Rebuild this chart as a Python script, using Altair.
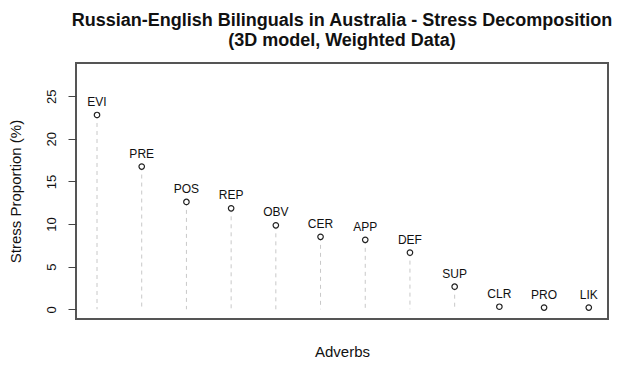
import altair as alt
import pandas as pd

adverbs = ["EVI", "PRE", "POS", "REP", "OBV", "CER", "APP", "DEF", "SUP", "CLR", "PRO", "LIK"]
stress = [22.8, 16.75, 12.6, 11.85, 9.85, 8.5, 8.15, 6.65, 2.65, 0.3, 0.2, 0.2]
positions = list(range(1, len(adverbs) + 1))
y_ticks = [0, 5, 10, 15, 20, 25]

df = pd.DataFrame({"pos": positions, "adverb": adverbs, "stress": stress, "zero": [0] * len(adverbs)})

FONT = "Liberation Sans"

x_enc = alt.X(
    "pos:Q",
    scale=alt.Scale(domain=[0.53, 12.43], nice=False, zero=False),
    axis=alt.Axis(labels=False, ticks=False, domain=False, grid=False,
                  title="Adverbs", titleFontSize=15, titleFontWeight="normal",
                  titleFont=FONT, titleColor="#111", titlePadding=25),
)
y_scale = alt.Scale(domain=[-1.14, 28.9], nice=False, zero=False)
y_enc = alt.Y(
    "stress:Q",
    scale=y_scale,
    axis=alt.Axis(values=y_ticks, grid=False, domain=False, tickSize=8, tickColor="#444",
                  tickWidth=1, labelAngle=-90, labelAlign="center", labelBaseline="middle",
                  labelFontSize=13, labelFont=FONT, labelColor="#111", labelPadding=17,
                  title="Stress Proportion (%)", titleFontSize=15, titleFontWeight="normal",
                  titleFont=FONT, titleColor="#111", titleAngle=-90, titleAlign="center",
                  titleBaseline="middle", titleX=-61, titleY=128),
)

base = alt.Chart(df)

rules = base.mark_rule(color="#c8c8c8", strokeDash=[4, 4], strokeWidth=1).encode(
    x=x_enc, y=y_enc, y2="zero:Q"
)
points = base.mark_point(shape="circle", filled=True, fill="white", stroke="#222",
                         strokeWidth=1.2, size=30, opacity=1).encode(x="pos:Q", y="stress:Q")
labels = base.mark_text(font=FONT, fontSize=12, color="#111", baseline="middle",
                        align="center", dy=-13).encode(x="pos:Q", y="stress:Q", text="adverb:N")

chart = (rules + points + labels).properties(
    width=532,
    height=256,
    autosize=alt.AutoSizeParams(type="none"),
    padding={"left": 68, "top": 55, "right": 8, "bottom": 40},
    title=alt.TitleParams(
        ["Russian-English Bilinguals in Australia - Stress Decomposition", "(3D model, Weighted Data)"],
        font=FONT, fontSize=18, fontWeight="bold", color="#111", anchor="middle",
        lineHeight=20, offset=13,
    ),
).configure(background="white").configure_view(stroke="#555", strokeWidth=2)

chart.save("out.html", embed_options={"renderer": "svg", "actions": False})
